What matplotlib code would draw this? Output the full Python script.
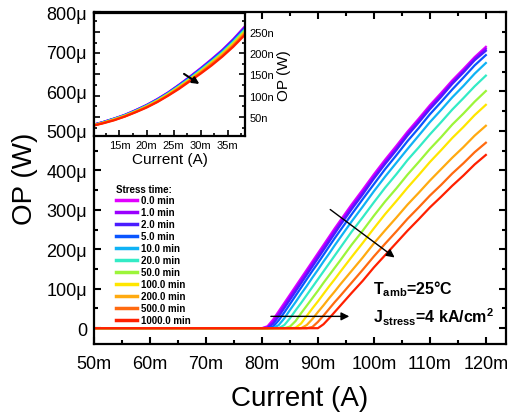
import numpy as np
import matplotlib
matplotlib.use("Agg")
import matplotlib.pyplot as plt
from matplotlib.ticker import MultipleLocator, FuncFormatter

plt.rcParams['font.family'] = 'Liberation Sans'
plt.rcParams['mathtext.fontset'] = 'custom'
plt.rcParams['mathtext.rm'] = 'Liberation Sans:bold'
plt.rcParams['mathtext.bf'] = 'Liberation Sans:bold'

# stress times and colours (legend order)
labels = ['0.0 min', '1.0 min', '2.0 min', '5.0 min', '10.0 min', '20.0 min',
          '50.0 min', '100.0 min', '200.0 min', '500.0 min', '1000.0 min']
colors = ['#e100ff', '#9a00ff', '#4a1cff', '#0a55ff', '#0fb2f5', '#33ebc6',
          '#9cf53a', '#ffe600', '#ffaa10', '#ff6a10', '#ff2000']

# main plot: current (mA) and optical power (uW)
current = [50, 80, 81, 82, 83, 84, 85, 86, 87, 88, 89, 90, 91, 92, 93, 94,
           96, 98, 100, 102, 104, 106, 108, 110, 112, 114, 116, 118, 120]
op_0 = [0, 0, 5, 22, 43, 64, 85, 106, 127, 148, 169, 190, 211, 232, 253, 273,
        313, 351, 390, 427, 462, 498, 531, 565, 596, 628, 657, 687, 713]
op_1 = [0, 0, 2, 16, 37, 58, 79, 100, 121, 142, 163, 184, 205, 226, 247, 267,
        307, 345, 384, 421, 456, 493, 526, 560, 591, 623, 652, 683, 708]
op_2 = [0, 0, 0, 11, 30, 51, 72, 93, 114, 135, 156, 177, 198, 219, 240, 261,
        301, 339, 379, 416, 451, 488, 521, 555, 586, 619, 648, 679, 703]
op_5 = [0, 0, 0, 4, 20, 40, 61, 82, 103, 124, 145, 165, 186, 207, 228, 248,
        288, 327, 365, 403, 438, 474, 507, 542, 573, 605, 635, 666, 692]
op_10 = [0, 0, 0, 0, 8, 25, 46, 66, 87, 107, 128, 148, 169, 189, 210, 230,
         270, 308, 347, 384, 419, 454, 488, 522, 553, 585, 614, 645, 672]
op_20 = [0, 0, 0, 0, 0, 8, 25, 45, 64, 84, 104, 124, 144, 164, 184, 204,
         244, 281, 319, 356, 390, 426, 458, 491, 522, 554, 583, 613, 640]
op_50 = [0, 0, 0, 0, 0, 0, 4, 18, 38, 57, 76, 95, 115, 134, 153, 172,
         211, 247, 285, 321, 354, 389, 421, 454, 484, 516, 544, 574, 601]
op_100 = [0, 0, 0, 0, 0, 0, 0, 1, 12, 31, 50, 68, 87, 106, 124, 143,
          180, 216, 253, 289, 322, 356, 388, 421, 451, 482, 510, 540, 566]
op_200 = [0, 0, 0, 0, 0, 0, 0, 0, 0, 8, 23, 41, 58, 76, 93, 111,
          145, 179, 215, 248, 280, 313, 343, 374, 403, 432, 459, 488, 513]
op_500 = [0, 0, 0, 0, 0, 0, 0, 0, 0, 0, 3, 16, 32, 49, 66, 82,
          115, 148, 182, 214, 245, 277, 306, 336, 363, 392, 418, 446, 470]
op_1000 = [0, 0, 0, 0, 0, 0, 0, 0, 0, 0, 0, 0, 10, 25, 41, 57,
           89, 120, 154, 185, 216, 247, 276, 306, 333, 361, 387, 415, 439]
main_curves = [op_0, op_1, op_2, op_5, op_10, op_20, op_50, op_100, op_200, op_500, op_1000]

# inset: low-current region, current (mA) and optical power (nW)
inset_current = [10, 12, 14, 16, 18, 20, 22, 24, 26, 28, 30, 32, 34, 36, 38]
in_0 = [31, 38, 46, 55, 66, 78, 92, 108, 126, 145, 165, 186, 208, 233, 261]
in_1 = [31, 38, 46, 55, 66, 78, 92, 107, 125, 144, 164, 185, 207, 232, 260]
in_2 = [31, 38, 46, 54, 65, 77, 91, 107, 125, 144, 163, 184, 206, 231, 258]
in_5 = [30, 37, 45, 54, 65, 77, 90, 106, 124, 142, 162, 183, 204, 229, 256]
in_10 = [30, 37, 45, 54, 64, 76, 90, 105, 123, 141, 161, 181, 203, 227, 254]
in_20 = [30, 37, 45, 53, 64, 76, 89, 105, 122, 140, 160, 180, 201, 226, 253]
in_50 = [30, 36, 44, 53, 63, 75, 88, 104, 121, 139, 158, 179, 200, 224, 251]
in_100 = [30, 36, 44, 52, 63, 74, 88, 103, 120, 138, 157, 177, 198, 222, 248]
in_200 = [29, 36, 43, 52, 62, 74, 87, 102, 119, 137, 156, 176, 197, 220, 247]
in_500 = [29, 36, 43, 51, 62, 73, 86, 101, 118, 136, 154, 174, 194, 218, 244]
in_1000 = [29, 35, 42, 51, 61, 72, 85, 100, 116, 134, 152, 171, 192, 215, 241]
inset_curves = [in_0, in_1, in_2, in_5, in_10, in_20, in_50, in_100, in_200, in_500, in_1000]

fig = plt.figure(figsize=(5.09, 4.14), dpi=100)
ax = fig.add_axes([0.1847, 0.1667, 0.8094, 0.8007])

for y, c, lab in zip(main_curves, colors, labels):
    ax.plot(current, y, color=c, lw=1.6, label=lab)

ax.set_xlim(50, 123.6)
ax.set_ylim(-40, 800)
ax.xaxis.set_major_locator(MultipleLocator(10))
ax.xaxis.set_minor_locator(MultipleLocator(5))
ax.yaxis.set_major_locator(MultipleLocator(100))
ax.yaxis.set_minor_locator(MultipleLocator(50))
ax.xaxis.set_major_formatter(FuncFormatter(lambda v, p: '%dm' % round(v)))
ax.yaxis.set_major_formatter(FuncFormatter(lambda v, p: '0' if v == 0 else '%dμ' % round(v)))
ax.tick_params(which='both', direction='in', top=True, right=True, width=1.5)
ax.tick_params(which='major', length=5, labelsize=13, pad=5)
ax.tick_params(axis='x', which='major', pad=8)
ax.tick_params(which='minor', length=3)
for s in ax.spines.values():
    s.set_linewidth(1.6)
ax.set_xlabel('Current (A)', fontsize=20, labelpad=9)
ax.set_ylabel('OP (W)', fontsize=20, labelpad=6)

# arrows
ax.annotate('', xy=(104.1, 175), xytext=(91.8, 305),
            arrowprops=dict(arrowstyle='-|>', color='k', lw=1, mutation_scale=12))
ax.annotate('', xy=(96.1, 30), xytext=(81.1, 30),
            arrowprops=dict(arrowstyle='-|>', color='k', lw=1, mutation_scale=12))

ax.text(99.8, 89, r'T$_{\mathbf{amb}}$=25°C', fontsize=11.5, fontweight='bold')
ax.text(99.8, 15, r'J$_{\mathbf{stress}}$=4 kA/cm$^{\mathbf{2}}$', fontsize=11.5, fontweight='bold')

leg = ax.legend(loc='upper left', bbox_to_anchor=(0.218, 0.566), bbox_transform=fig.transFigure,
                frameon=False, borderpad=0, title='Stress time:', alignment='left',
                prop={'size': 7, 'weight': 'bold'}, labelspacing=0.2,
                handlelength=2.2, handletextpad=0.35)
leg.get_title().set_fontsize(7)
leg.get_title().set_fontweight('bold')
for h in leg.legend_handles:
    h.set_linewidth(2.5)

# inset
axi = fig.add_axes([0.1847, 0.669, 0.2967, 0.2983])
for y, c in zip(inset_curves, colors):
    axi.plot(inset_current, y, color=c, lw=1.6)
axi.set_xlim(10.3, 38.2)
axi.set_ylim(5, 296)
axi.xaxis.set_major_locator(MultipleLocator(5))
axi.xaxis.set_minor_locator(MultipleLocator(2.5))
axi.yaxis.set_major_locator(MultipleLocator(50))
axi.yaxis.set_minor_locator(MultipleLocator(25))
axi.xaxis.set_major_formatter(FuncFormatter(lambda v, p: '%dm' % round(v)))
axi.yaxis.set_major_formatter(FuncFormatter(lambda v, p: '%dn' % round(v)))
axi.yaxis.tick_right()
axi.yaxis.set_label_position('right')
axi.tick_params(which='both', direction='in', left=True, right=True, width=1.2)
axi.tick_params(which='major', length=4, labelsize=8, pad=3)
axi.tick_params(which='minor', length=2)
for s in axi.spines.values():
    s.set_linewidth(1.6)
axi.set_xlabel('Current (A)', fontsize=11, labelpad=1)
axi.set_ylabel('OP (W)', fontsize=11, labelpad=2)
axi.annotate('', xy=(30.2, 124), xytext=(26.5, 155),
             arrowprops=dict(arrowstyle='-|>', color='k', lw=1.5, mutation_scale=10))

fig.savefig('out.png', dpi=100)
